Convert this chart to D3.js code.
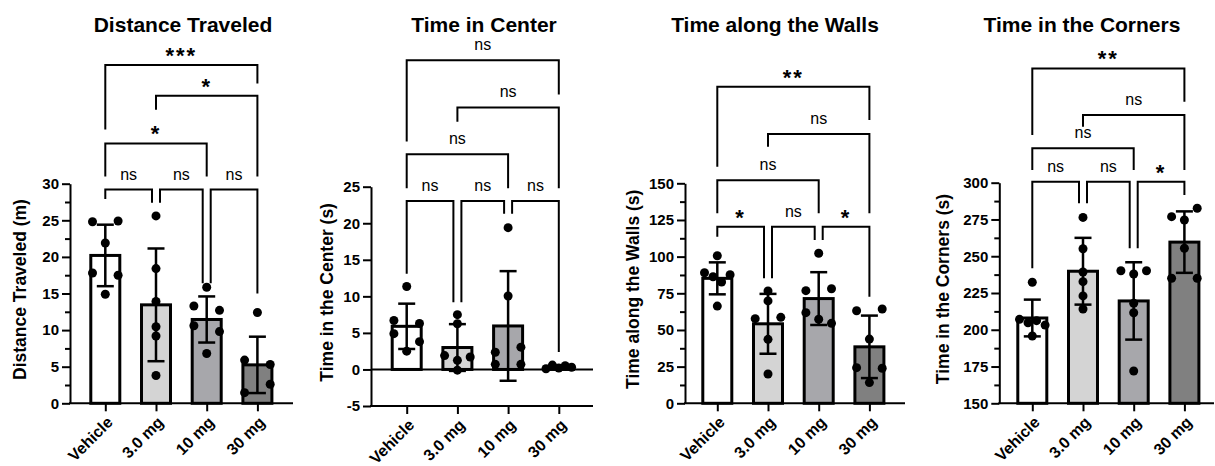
<!DOCTYPE html>
<html>
<head>
<meta charset="utf-8">
<script src="https://cdn.jsdelivr.net/npm/d3@7"></script>
<style>
body { margin: 0; background: #fff; }
svg { display: block; font-family: "Liberation Sans", Arial, sans-serif; }
</style>
</head>
<body>
<svg></svg>
<script>
// размеры svg
const width = 1215;
const height = 466;

// группы (ось X)
const groups = ["Vehicle", "3.0 mg", "10 mg", "30 mg"];

// Distance Traveled
const distMean = [20.2, 13.45, 11.45, 5.25];
const distSD = [4.2, 7.7, 3.15, 3.85];
const distPoints = [
  [24.8, 24.9, 21.9, 17.8, 17.5, 14.9],
  [25.6, 18.4, 13.9, 10.45, 9.2, 3.8],
  [15.85, 13.3, 12.7, 10.6, 9.8, 6.8],
  [12.4, 5.9, 5.3, 1.45, 2.6]
];
const distTicks = [0, 5, 10, 15, 20, 25, 30];
const distBrackets = [
  {a: 0, b: 1, label: "ns", y: 29.2, legA: 27.9, legB: 27.4},
  {a: 1, b: 2, label: "ns", y: 29.2, legA: 27.4, legB: 16.4},
  {a: 2, b: 3, label: "ns", y: 29.2, legA: 16.4, legB: 15.0},
  {a: 0, b: 2, label: "*", y: 35.5, legA: 31.0, legB: 31.0},
  {a: 1, b: 3, label: "*", y: 42.0, legA: 40.1, legB: 31.0},
  {a: 0, b: 3, label: "***", y: 46.2, legA: 37.4, legB: 43.7}
];

// Time in Center
const centerMean = [5.9, 3.0, 5.95, 0.34];
const centerSD = [3.1, 3.2, 7.5, 0.2];
const centerPoints = [
  [11.35, 6.7, 6.3, 4.9, 3.8, 2.5],
  [7.5, 6.25, 1.9, 1.25, 1.7, -0.1],
  [19.4, 10.05, 2.35, 3.05, 0.7, 0.7],
  [0.1, 0.6, 0.2, 0.5, 0.3]
];
const centerTicks = [-5, 0, 5, 10, 15, 20, 25];
const centerBrackets = [
  {a: 0, b: 1, label: "ns", y: 23.05, legA: 13.1, legB: 9.2},
  {a: 1, b: 2, label: "ns", y: 23.05, legA: 9.2, legB: 21.3},
  {a: 2, b: 3, label: "ns", y: 23.05, legA: 21.3, legB: 2.4},
  {a: 0, b: 2, label: "ns", y: 29.45, legA: 24.8, legB: 24.8},
  {a: 1, b: 3, label: "ns", y: 35.85, legA: 33.9, legB: 24.8},
  {a: 0, b: 3, label: "ns", y: 42.3, legA: 31.2, legB: 37.6}
];

// Time along the Walls
const wallMean = [85.2, 54.2, 71.4, 38.5];
const wallSD = [10.9, 20.4, 18.0, 21.3];
const wallPoints = [
  [100.6, 89.0, 86.3, 82.7, 87.7, 66.3],
  [76.6, 69.8, 57.7, 58.6, 43.6, 20.0],
  [102.3, 76.8, 78.1, 61.8, 57.3, 54.5],
  [63.1, 64.3, 43.8, 24.3, 23.9, 14.1]
];
const wallTicks = [0, 25, 50, 75, 100, 125, 150];
const wallBrackets = [
  {a: 0, b: 1, label: "*", y: 120.4, legA: 113.6, legB: 85.2},
  {a: 1, b: 2, label: "ns", y: 120.4, legA: 85.2, legB: 111.3},
  {a: 2, b: 3, label: "*", y: 120.4, legA: 111.3, legB: 72.7},
  {a: 0, b: 2, label: "ns", y: 152.0, legA: 129.5, legB: 129.5},
  {a: 1, b: 3, label: "ns", y: 183.6, legA: 175.0, legB: 129.5},
  {a: 0, b: 3, label: "**", y: 215.9, legA: 161.3, legB: 193.2}
];

// Time in the Corners
const cornerMean = [208.0, 239.8, 219.6, 259.6];
const cornerSD = [12.5, 22.7, 26.3, 20.9];
const cornerPoints = [
  [232.3, 207.1, 204.8, 206.2, 203.2, 195.8],
  [276.4, 255.1, 239.3, 232.7, 223.0, 214.1],
  [240.1, 237.9, 240.1, 218.0, 211.6, 172.0],
  [276.9, 282.6, 274.6, 255.4, 235.0, 235.0]
];
const cornerTicks = [150, 175, 200, 225, 250, 275, 300];
const cornerBrackets = [
  {a: 0, b: 1, label: "ns", y: 300.65, legA: 241.8, legB: 286.0},
  {a: 1, b: 2, label: "ns", y: 300.65, legA: 286.0, legB: 255.4},
  {a: 2, b: 3, label: "*", y: 300.65, legA: 255.4, legB: 291.6},
  {a: 0, b: 2, label: "ns", y: 323.35, legA: 308.6, legB: 308.6},
  {a: 1, b: 3, label: "ns", y: 346.0, legA: 338.0, legB: 308.6},
  {a: 0, b: 3, label: "**", y: 377.7, legA: 332.4, legB: 355.0}
];

// цвета столбиков
const fills = ["#ffffff", "#d4d4d4", "#a7a7ab", "#808080"];

// описание панелей
const panels = [
  {title: "Distance Traveled", yLabel: "Distance Traveled (m)", mean: distMean, sd: distSD,
   points: distPoints, ticks: distTicks, brackets: distBrackets, minor: true,
   x0: 70, x1: 293, first: 105.3, yTop: 183.7, yBot: 403.3, titleX: 183, labelX: 20},
  {title: "Time in Center", yLabel: "Time in the Center (s)", mean: centerMean, sd: centerSD,
   points: centerPoints, ticks: centerTicks, brackets: centerBrackets, minor: false,
   x0: 371, x1: 593, first: 406.7, yTop: 186.7, yBot: 406, titleX: 484, labelX: 327},
  {title: "Time along the Walls", yLabel: "Time along the Walls (s)", mean: wallMean, sd: wallSD,
   points: wallPoints, ticks: wallTicks, brackets: wallBrackets, minor: true,
   x0: 685, x1: 905, first: 717.3, yTop: 183.3, yBot: 403.3, titleX: 775, labelX: 633},
  {title: "Time in the Corners", yLabel: "Time in the Corners (s)", mean: cornerMean, sd: cornerSD,
   points: cornerPoints, ticks: cornerTicks, brackets: cornerBrackets, minor: true,
   x0: 999.3, x1: 1214, first: 1032.3, yTop: 182.7, yBot: 403.3, titleX: 1082, labelX: 943}
];

const step = 50.7;
const barW = 29;
const capW = 17;
const spread = 12.8;   // половина ширины разброса точек
const dotR = 4.5;

let svg = d3.select("svg")
  .attr("width", width)
  .attr("height", height);

svg.append("rect").attr("width", width).attr("height", height).attr("fill", "#fff");

// разброс точек: соседние (по порядку) близкие точки раскладываются в ряд
function jitter(vals, y) {
  let res = [];
  let cluster = [];
  const flush = () => {
    const n = cluster.length;
    cluster.forEach((v, k) => {
      res.push({v: v, dx: n === 1 ? 0 : -spread + 2 * spread * k / (n - 1)});
    });
    cluster = [];
  };
  vals.forEach(v => {
    if (cluster.length && Math.abs(y(v) - y(cluster[cluster.length - 1])) >= 8.8) flush();
    cluster.push(v);
  });
  flush();
  return res;
}

function drawPanel(p) {
  const g = svg.append("g");
  const dom = [p.ticks[0], p.ticks[p.ticks.length - 1]];
  const y = d3.scaleLinear().domain(dom).range([p.yBot, p.yTop]);
  const x = d3.scalePoint().domain(groups).range([p.first, p.first + step * 3]);
  const base = Math.max(dom[0], 0);

  // заголовок
  g.append("text")
    .attr("x", p.titleX).attr("y", 32)
    .attr("text-anchor", "middle")
    .style("font-size", "21px").style("font-weight", "bold")
    .text(p.title);

  // подпись оси Y
  g.append("text")
    .attr("transform", `translate(${p.labelX + 6},${(p.yTop + p.yBot) / 2 - 4}) rotate(-90)`)
    .attr("text-anchor", "middle")
    .style("font-size", "17.5px").style("font-weight", "bold")
    .text(p.yLabel);

  // ось Y
  const yAxis = g.append("g")
    .attr("transform", `translate(${p.x0},0)`)
    .call(d3.axisLeft(y).tickValues(p.ticks).tickSize(8).tickSizeOuter(0).tickPadding(3)
      .tickFormat(d => String(d)));
  yAxis.select(".domain").attr("stroke-width", 2);
  yAxis.selectAll(".tick line").attr("stroke-width", 2);
  yAxis.selectAll(".tick text")
    .style("font-size", "15px").style("font-weight", "bold")
    .style("font-family", "'Liberation Sans', Arial, sans-serif");

  if (p.minor) {
    const minorTicks = d3.pairs(p.ticks).map(d => (d[0] + d[1]) / 2);
    const m = g.append("g")
      .attr("transform", `translate(${p.x0},0)`)
      .call(d3.axisLeft(y).tickValues(minorTicks).tickSize(5).tickFormat(""));
    m.select(".domain").remove();
    m.selectAll(".tick line").attr("stroke-width", 2);
  }

  // ось X
  g.append("line")
    .attr("x1", p.x0 - 1).attr("x2", p.x1)
    .attr("y1", p.yBot).attr("y2", p.yBot)
    .attr("stroke", "#000").attr("stroke-width", 2);
  const xAxis = g.append("g")
    .attr("transform", `translate(0,${p.yBot})`)
    .call(d3.axisBottom(x).tickSize(8).tickSizeOuter(0));
  xAxis.select(".domain").remove();
  xAxis.selectAll(".tick line").attr("stroke-width", 2);
  xAxis.selectAll(".tick text")
    .attr("text-anchor", "end")
    .attr("dy", null)
    .attr("y", 0)
    .attr("transform", "translate(8,20) rotate(-45)")
    .style("font-size", "16px").style("font-weight", "bold")
    .style("font-family", "'Liberation Sans', Arial, sans-serif");

  // линия нуля для панели с отрицательными значениями
  if (dom[0] < 0) {
    g.append("line")
      .attr("x1", p.x0).attr("x2", p.x1)
      .attr("y1", y(0)).attr("y2", y(0))
      .attr("stroke", "#000").attr("stroke-width", 2);
  }

  // столбики
  g.selectAll(".bar")
    .data(p.mean)
    .join("rect")
    .attr("x", (d, i) => x(groups[i]) - barW / 2)
    .attr("y", d => y(d))
    .attr("width", barW)
    .attr("height", d => y(base) - y(d))
    .attr("fill", (d, i) => fills[i])
    .attr("stroke", "#000")
    .attr("stroke-width", 3);

  // планки погрешностей
  p.mean.forEach((m, i) => {
    const cx = x(groups[i]);
    const lo = y(m - p.sd[i]), hi = y(m + p.sd[i]);
    const eb = g.append("g").attr("stroke", "#000").attr("stroke-width", 2.5);
    eb.append("line").attr("x1", cx).attr("x2", cx).attr("y1", lo).attr("y2", hi);
    eb.append("line").attr("x1", cx - capW / 2).attr("x2", cx + capW / 2).attr("y1", hi).attr("y2", hi);
    eb.append("line").attr("x1", cx - capW / 2).attr("x2", cx + capW / 2).attr("y1", lo).attr("y2", lo);
  });

  // точки
  p.points.forEach((vals, i) => {
    const cx = x(groups[i]);
    g.selectAll(null)
      .data(jitter(vals, y))
      .join("circle")
      .attr("cx", d => cx + d.dx)
      .attr("cy", d => y(d.v))
      .attr("r", dotR)
      .attr("fill", "#000");
  });

  // скобки значимости
  p.brackets.forEach(b => {
    const nudgeA = p.brackets.some(o => o !== b && o.y === b.y && o.b === b.a) ? 4 : 0;
    const nudgeB = p.brackets.some(o => o !== b && o.y === b.y && o.a === b.b) ? -4 : 0;
    const xa = x(groups[b.a]) + nudgeA;
    const xb = x(groups[b.b]) + nudgeB;
    const yl = y(b.y);
    g.append("path")
      .attr("d", `M${xa},${y(b.legA)}V${yl}H${xb}V${y(b.legB)}`)
      .attr("fill", "none")
      .attr("stroke", "#000")
      .attr("stroke-width", 2);
    const star = b.label !== "ns";
    g.append("text")
      .attr("x", (xa + xb) / 2)
      .attr("y", star ? yl - 2 : yl - 10)
      .attr("text-anchor", "middle")
      .style("font-size", star ? "22px" : "16px")
      .style("font-weight", star ? "bold" : "normal")
      .style("letter-spacing", star ? "2px" : "0px")
      .text(b.label);
  });
}

panels.forEach(drawPanel);
</script>
</body>
</html>
